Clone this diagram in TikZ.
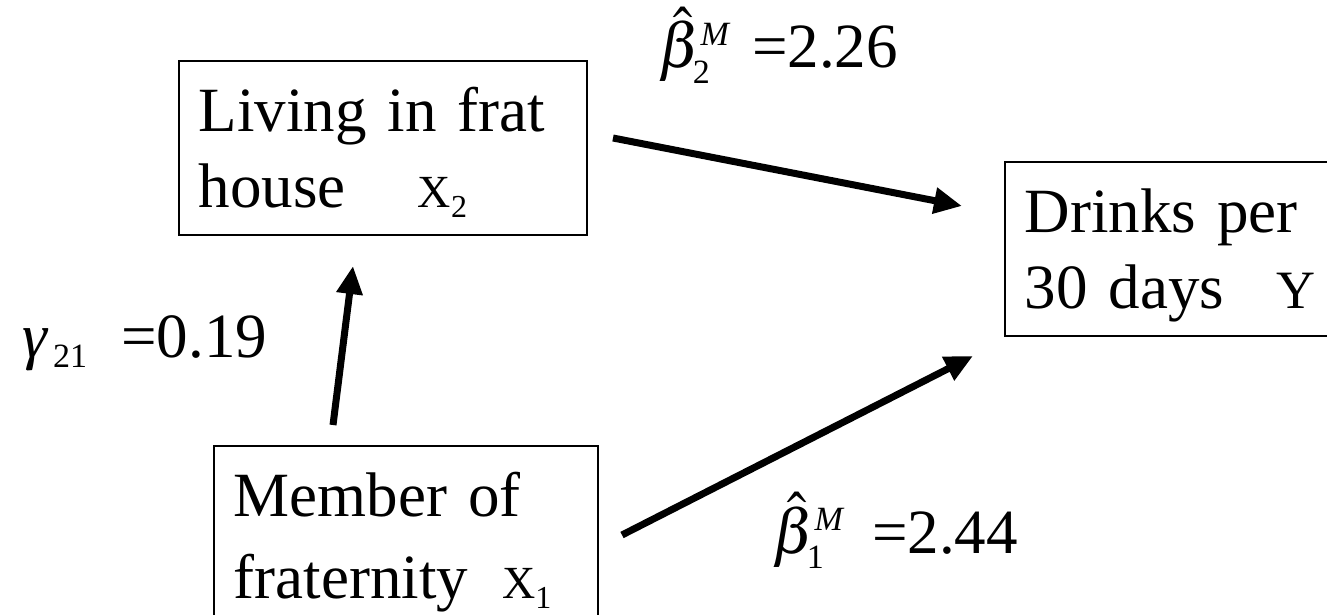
\documentclass[tikz,border=0pt]{standalone}
\usepackage{mathptmx}
\usepackage[no-math]{fontspec}
\setmainfont{Liberation Serif}
\newfontfamily\tnr{Liberation Serif}
\usetikzlibrary{arrows.meta,positioning}
\newcommand{\subvar}[2]{{\fontsize{23}{23}\selectfont #1}\raisebox{-5pt}{\fontsize{16}{16}\selectfont #2}}
\newcommand{\scr}[1]{\mbox{\fontsize{17}{17}\selectfont #1}}

\begin{document}
\begin{tikzpicture}[x=0.5pt, y=-0.5pt,
    box/.style={draw, line width=0.8pt, anchor=north west, align=left,
        inner xsep=10pt, inner ysep=0pt, text height=35.5pt, text depth=51.5pt,
        font=\tnr\fontsize{31.5}{38}\selectfont},
    arr/.style={line width=3.5pt, -{Triangle[length=14pt,width=12.5pt]}},
    lbl/.style={anchor=base west, inner sep=0pt, font=\tnr\fontsize{31.5}{38}\selectfont}]
    \useasboundingbox (0,0) rectangle (1327,615);

    % Boxes for the three variables
    \node[box, text width=184pt] (living) at (178,60)
        {Living in frat\\ house\hspace{36pt}\subvar{X}{2}};
    \node[box, text width=150pt] (drinks) at (1004,161)
        {Drinks per\\ 30 days\hspace{26pt}{\fontsize{27}{27}\selectfont Y}};
    \node[box, text width=172pt] (member) at (213,445)
        {Member of\\[3pt] fraternity\hspace{17pt}\subvar{X}{1}};

    % Arrow ends (free of the boxes)
    \coordinate (liv-out) at (613,138);
    \coordinate (dri-top) at (962,206);
    \coordinate (mem-up)  at (333,425);
    \coordinate (liv-in)  at (353,266);
    \coordinate (mem-out) at (622,535);
    \coordinate (dri-bot) at (973,356);

    % Paths
    \draw[arr] (liv-out) -- (dri-top);
    \draw[arr] (mem-up) -- (liv-in);
    \draw[arr] (mem-out) -- (dri-bot);

    % Path coefficients
    \node[lbl] (beta2) at (658,68)
        {$\hat{\beta}^{\scr{\itshape M}}_{\scr{2}}$\hspace{11pt}=2.26};
    \node[lbl] (gamma21) at (22,357)
        {{\itshape γ}\hspace{3pt}\raisebox{-5pt}{\fontsize{17}{17}\selectfont 21}\hspace{17pt}=0.19};
    \node[lbl] (beta1) at (772,553)
        {$\hat{\beta}^{\scr{\itshape M}}_{\scr{1}}$\hspace{14pt}=2.44};
\end{tikzpicture}
\end{document}
